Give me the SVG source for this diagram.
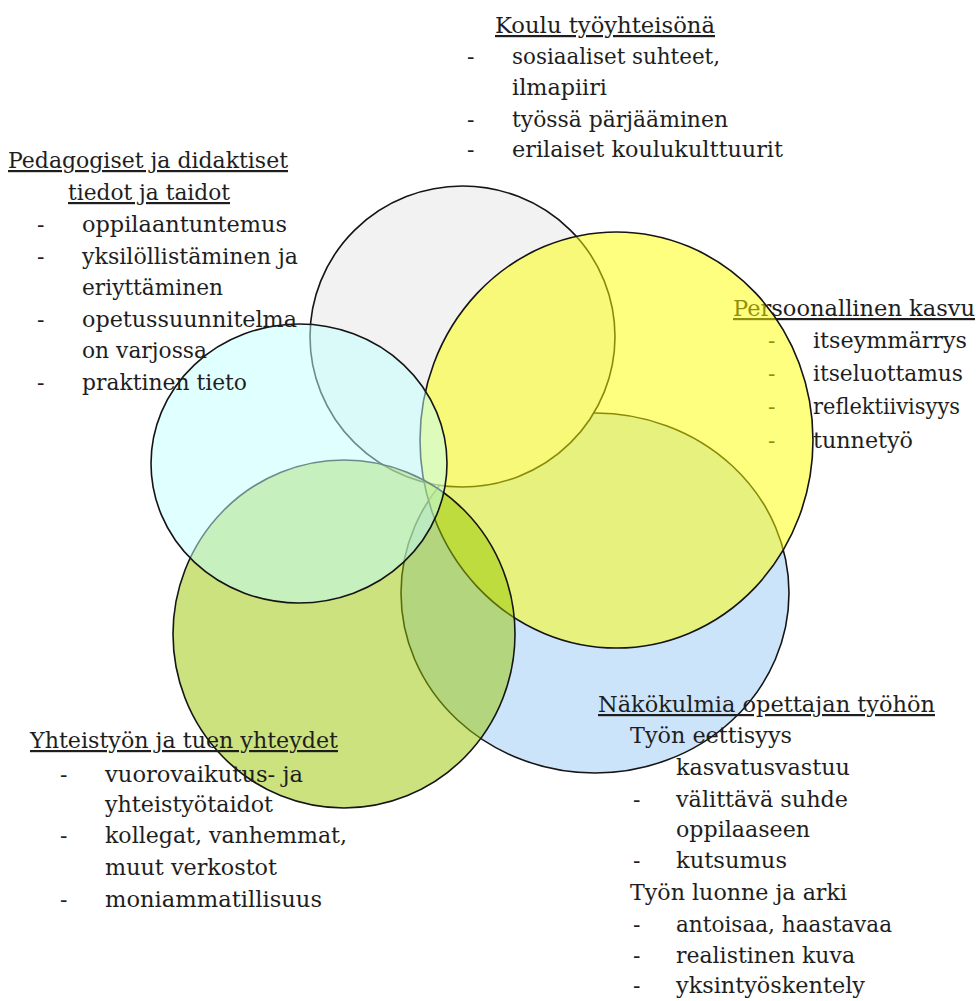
<svg xmlns="http://www.w3.org/2000/svg" width="976" height="1001" viewBox="0 0 976 1001">
<style>
  .t { font-family: "DejaVu Serif", "Liberation Serif", "Noto Serif", "Times New Roman", serif; font-size: 22px; fill: #1e1e1e; }
  .h { text-decoration: underline; }
  .c { stroke: #151515; stroke-width: 1.6; }
  .blue { fill: #99c9f5; fill-opacity: 0.5; }
  .gray { fill: #f2f2f2; }
  .yellow { fill: #ffff00; fill-opacity: 0.5; }
  .green { fill: #97c500; fill-opacity: 0.5; }
  .cyan { fill: #c1ffff; fill-opacity: 0.5; }
</style>
<rect width="976" height="1001" fill="#ffffff"/>

<g id="nakokulmia">
  <ellipse class="c blue" cx="595" cy="593" rx="194" ry="180"/>
  <g class="t">
  <text class="h" x="598" y="712" textLength="337" lengthAdjust="spacingAndGlyphs">Näkökulmia opettajan työhön</text>
  <text x="630" y="743" textLength="162" lengthAdjust="spacingAndGlyphs">Työn eettisyys</text>
  <text x="676" y="775" textLength="174" lengthAdjust="spacingAndGlyphs">kasvatusvastuu</text>
  <text x="633" y="807">-</text>
  <text x="676" y="807" textLength="172" lengthAdjust="spacingAndGlyphs">välittävä suhde</text>
  <text x="676" y="837" textLength="134" lengthAdjust="spacingAndGlyphs">oppilaaseen</text>
  <text x="633" y="868">-</text>
  <text x="676" y="868" textLength="111" lengthAdjust="spacingAndGlyphs">kutsumus</text>
  <text x="630" y="900" textLength="217" lengthAdjust="spacingAndGlyphs">Työn luonne ja arki</text>
  <text x="633" y="932">-</text>
  <text x="676" y="932" textLength="216" lengthAdjust="spacingAndGlyphs">antoisaa, haastavaa</text>
  <text x="633" y="963">-</text>
  <text x="676" y="963" textLength="179" lengthAdjust="spacingAndGlyphs">realistinen kuva</text>
  <text x="633" y="993">-</text>
  <text x="676" y="993" textLength="189" lengthAdjust="spacingAndGlyphs">yksintyöskentely</text>
  </g>
</g>

<g id="koulu">
  <ellipse class="c gray" cx="462.5" cy="336.5" rx="152.5" ry="150.5"/>
  <g class="t">
  <text class="h" x="495" y="33" textLength="220" lengthAdjust="spacingAndGlyphs">Koulu työyhteisönä</text>
  <text x="467" y="64">-</text>
  <text x="512" y="64" textLength="208" lengthAdjust="spacingAndGlyphs">sosiaaliset suhteet,</text>
  <text x="512" y="95" textLength="95" lengthAdjust="spacingAndGlyphs">ilmapiiri</text>
  <text x="467" y="127">-</text>
  <text x="512" y="127" textLength="216" lengthAdjust="spacingAndGlyphs">työssä pärjääminen</text>
  <text x="467" y="157">-</text>
  <text x="512" y="157" textLength="271" lengthAdjust="spacingAndGlyphs">erilaiset koulukulttuurit</text>
  </g>
</g>

<g id="persoonallinen">
  <g class="t">
  <text class="h" x="733" y="316" textLength="242" lengthAdjust="spacingAndGlyphs">Persoonallinen kasvu</text>
  <text x="768" y="348">-</text>
  <text x="813" y="348" textLength="154" lengthAdjust="spacingAndGlyphs">itseymmärrys</text>
  <text x="768" y="381">-</text>
  <text x="813" y="381" textLength="150" lengthAdjust="spacingAndGlyphs">itseluottamus</text>
  <text x="768" y="414">-</text>
  <text x="813" y="414" textLength="147" lengthAdjust="spacingAndGlyphs">reflektiivisyys</text>
  <text x="768" y="448">-</text>
  <text x="813" y="448" textLength="100" lengthAdjust="spacingAndGlyphs">tunnetyö</text>
  </g>
  <ellipse class="c yellow" cx="616.5" cy="440" rx="196.5" ry="208"/>
</g>

<g id="yhteistyo">
  <ellipse class="c green" cx="344" cy="634" rx="171" ry="174"/>
  <g class="t">
  <text class="h" x="30" y="748" textLength="308" lengthAdjust="spacingAndGlyphs">Yhteistyön ja tuen yhteydet</text>
  <text x="60" y="782">-</text>
  <text x="105" y="782" textLength="198" lengthAdjust="spacingAndGlyphs">vuorovaikutus- ja</text>
  <text x="105" y="812" textLength="168" lengthAdjust="spacingAndGlyphs">yhteistyötaidot</text>
  <text x="60" y="843">-</text>
  <text x="105" y="843" textLength="242" lengthAdjust="spacingAndGlyphs">kollegat, vanhemmat,</text>
  <text x="105" y="875" textLength="172" lengthAdjust="spacingAndGlyphs">muut verkostot</text>
  <text x="60" y="907">-</text>
  <text x="105" y="907" textLength="217" lengthAdjust="spacingAndGlyphs">moniammatillisuus</text>
  </g>
</g>

<g id="pedagogiset">
  <ellipse class="c cyan" cx="299" cy="463.5" rx="148" ry="139.5"/>
  <g class="t">
  <text class="h" x="8" y="168" textLength="280" lengthAdjust="spacingAndGlyphs">Pedagogiset ja didaktiset</text>
  <text class="h" x="68" y="200" textLength="162" lengthAdjust="spacingAndGlyphs">tiedot ja taidot</text>
  <text x="37" y="232">-</text>
  <text x="82" y="232" textLength="205" lengthAdjust="spacingAndGlyphs">oppilaantuntemus</text>
  <text x="37" y="264">-</text>
  <text x="82" y="264" textLength="216" lengthAdjust="spacingAndGlyphs">yksilöllistäminen ja</text>
  <text x="82" y="295" textLength="141" lengthAdjust="spacingAndGlyphs">eriyttäminen</text>
  <text x="37" y="327">-</text>
  <text x="82" y="327" textLength="215" lengthAdjust="spacingAndGlyphs">opetussuunnitelma</text>
  <text x="82" y="358" textLength="125" lengthAdjust="spacingAndGlyphs">on varjossa</text>
  <text x="37" y="390">-</text>
  <text x="82" y="390" textLength="165" lengthAdjust="spacingAndGlyphs">praktinen tieto</text>
  </g>
</g>
</svg>
